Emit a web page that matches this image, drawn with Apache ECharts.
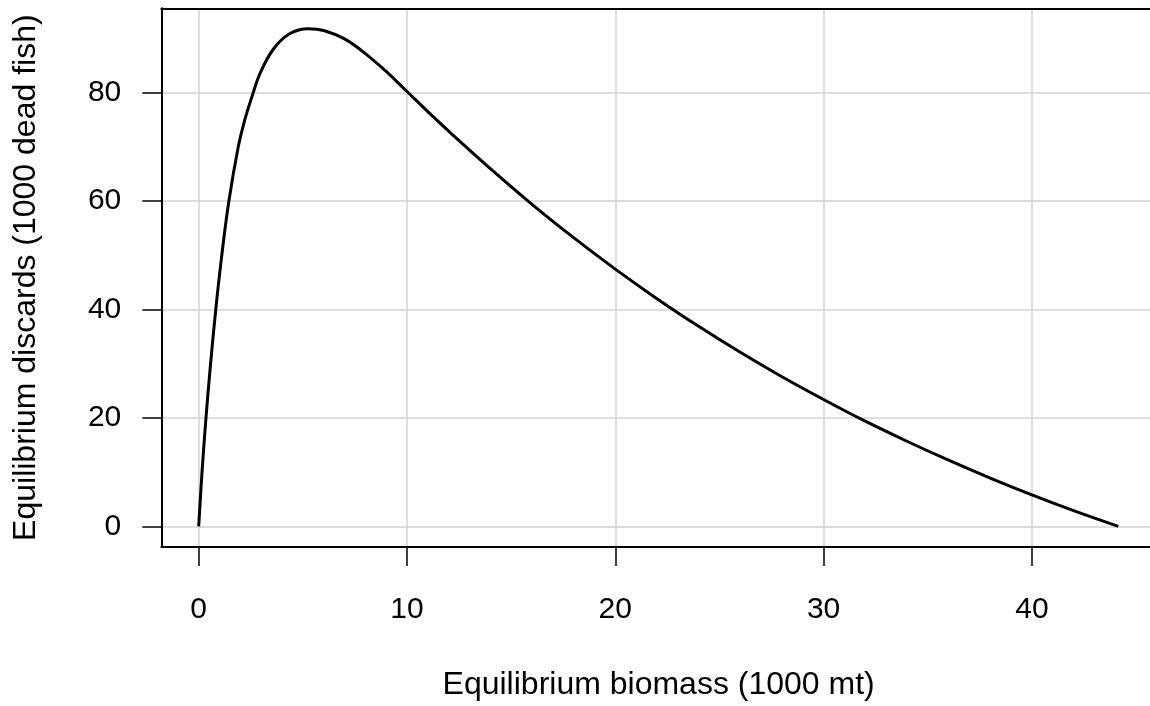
<!DOCTYPE html>
<html>
<head>
<meta charset="utf-8">
<script src="https://cdn.jsdelivr.net/npm/echarts@6/dist/echarts.min.js"></script>
<style>
html,body{margin:0;padding:0;background:#fff;}
#chart{width:1150px;height:706px;}
</style>
</head>
<body>
<div id="chart"></div>
<script>
// Equilibrium biomass (1000 mt)
var biomass = [0, 0.16, 0.35, 0.56, 0.82, 1.10, 1.45, 1.90, 2.20, 2.62, 2.94, 3.58, 4.38, 5.26, 6, 7, 8, 9, 10, 11, 12, 14, 16, 18, 20, 22, 24, 26, 28, 30, 32, 34, 36, 38, 40, 42, 44.15];
// Equilibrium discards (1000 dead fish)
var discards = [0, 10, 20, 29.5, 40, 49.7, 60, 70, 74.8, 80, 83.5, 88.0, 90.9, 91.8, 91.45, 89.9, 87.2, 83.9, 80.2, 76.5, 72.9, 66.0, 59.4, 53.25, 47.45, 42.0, 36.9, 32.1, 27.6, 23.4, 19.4, 15.7, 12.2, 8.9, 5.8, 2.9, 0];
var xTicks = [0, 10, 20, 30, 40];
var yTicks = [0, 20, 40, 60, 80];

var points = biomass.map(function (b, i) { return [b, discards[i]]; });
var FONT = '"Liberation Sans", Arial, Helvetica, sans-serif';

var chart = echarts.init(document.getElementById('chart'), null, {renderer: 'canvas'});
chart.setOption({
  backgroundColor: '#ffffff',
  animation: false,
  grid: {
    left: 161.3, top: 8.3, right: 0, height: 540.7,
    show: false, containLabel: false
  },
  xAxis: [{
    type: 'value',
    min: -1.795, max: 45.67,
    name: 'Equilibrium biomass (1000 mt)',
    nameLocation: 'middle',
    nameGap: 122,
    nameTextStyle: {fontFamily: FONT, fontSize: 32, color: '#000', padding: [0, 0, 0, 6]},
    axisLine: {show: true, onZero: false, lineStyle: {color: '#000', width: 2}},
    axisTick: {show: true, length: 19, inside: false, customValues: xTicks, lineStyle: {color: '#000', width: 1.5}},
    axisLabel: {customValues: xTicks, margin: 48, fontFamily: FONT, fontSize: 30, color: '#000'},
    splitLine: {show: true, lineStyle: {color: '#d3d3d3', width: 1.5}}
  }, {
    type: 'value',
    position: 'top',
    min: -1.795, max: 45.67,
    axisLine: {show: true, onZero: false, lineStyle: {color: '#000', width: 2}},
    axisTick: {show: false},
    axisLabel: {show: false},
    splitLine: {show: false}
  }],
  yAxis: {
    type: 'value',
    min: -3.80, max: 95.55,
    name: 'Equilibrium discards (1000 dead fish)',
    nameLocation: 'middle',
    nameGap: 119,
    nameRotate: 90,
    nameTextStyle: {fontFamily: FONT, fontSize: 32, color: '#000'},
    axisLine: {show: true, onZero: false, lineStyle: {color: '#000', width: 2}},
    axisTick: {show: true, length: 19, inside: false, customValues: yTicks, lineStyle: {color: '#000', width: 1.5}},
    axisLabel: {customValues: yTicks, margin: 40, fontFamily: FONT, fontSize: 30, color: '#000'},
    splitLine: {show: true, lineStyle: {color: '#d3d3d3', width: 1.5}}
  },
  series: [{
    type: 'line',
    xAxisIndex: 0,
    data: points,
    smooth: 0.4,
    symbol: 'none',
    lineStyle: {color: '#000', width: 3},
    z: 5
  }]
});
</script>
</body>
</html>
